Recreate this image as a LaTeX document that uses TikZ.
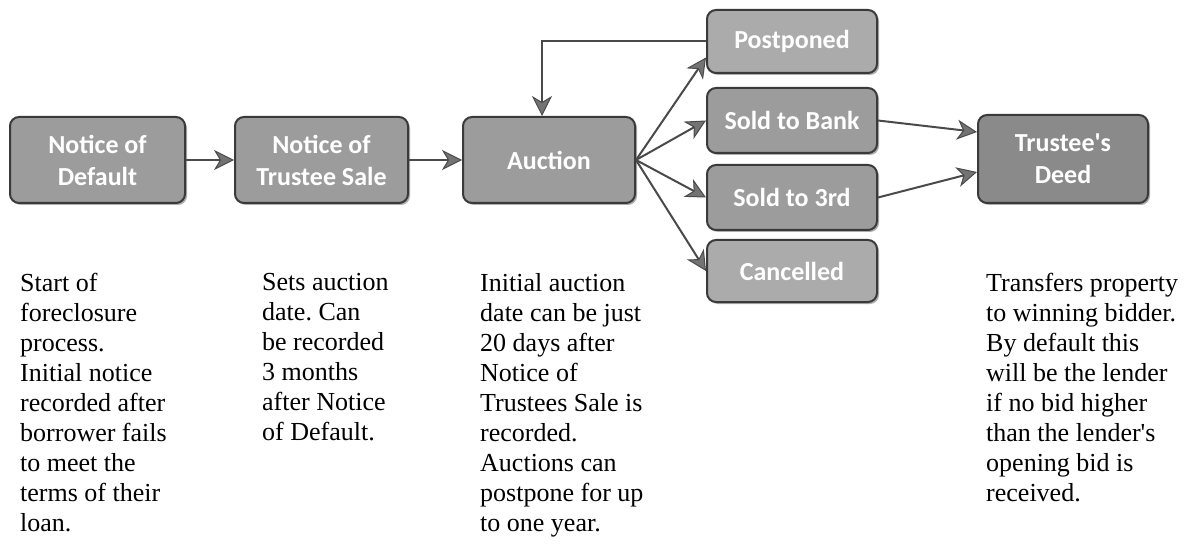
\documentclass[tikz,border=0pt]{standalone}
\usepackage{fontspec}
\setmainfont{Liberation Serif}
\newfontfamily\boxfont{Carlito}
\usetikzlibrary{arrows.meta,shadows,calc}
\definecolor{boxA}{HTML}{9C9C9C}
\definecolor{boxL}{HTML}{ABABAB}
\definecolor{boxD}{HTML}{8A8A8A}
\definecolor{edge}{HTML}{3A3A3A}
\definecolor{arr}{HTML}{4A4A4A}
\tikzset{
  stagebox/.style={draw=edge, line width=2pt, rounded corners=9pt, fill=boxA,
    inner sep=0pt, align=center, text=white,
    font=\boxfont\bfseries\fontsize{26}{32}\selectfont,
    drop shadow={shadow xshift=2pt, shadow yshift=-2pt, fill=black!45, opacity=0.7}},
  flow/.style={draw=arr, line width=2pt,
    -{Stealth[length=20pt,width=20pt,inset=6pt,color=arr,fill=black!55,line width=1pt]}},
  note/.style={anchor=north west, inner sep=0pt, align=left,
    font=\frenchspacing\fontsize{26}{30}\selectfont}
}
\begin{document}
\begin{tikzpicture}[x=1pt,y=-1pt]
\useasboundingbox (0,0) rectangle (1185,545);
% boxes
\node[stagebox, minimum width=175, minimum height=86] (def) at (97.5,160) {Notice of\\Default};
\node[stagebox, minimum width=173, minimum height=86] (tsale) at (321.5,160) {Notice of\\Trustee Sale};
\node[stagebox, minimum width=172, minimum height=86] (auction) at (549,160) {Auction};
\node[stagebox, fill=boxL, minimum width=170, minimum height=63] (post) at (792,41.5) {Postponed};
\node[stagebox, minimum width=170, minimum height=65] (bank) at (792,120.5) {Sold to Bank};
\node[stagebox, minimum width=170, minimum height=65] (third) at (792,197.5) {Sold to 3rd};
\node[stagebox, fill=boxL, minimum width=170, minimum height=62] (canc) at (792,271) {Cancelled};
\node[stagebox, fill=boxD, minimum width=170, minimum height=88] (deed) at (1063,159) {Trustee\textquotesingle s\\Deed};
% connectors
\draw[flow] (def.east) -- (tsale.west);
\draw[flow] (tsale.east) -- (auction.west);
\draw[flow] (auction.east) -- ([yshift=-16pt]post.west);
\draw[flow] (auction.east) -- (bank.west);
\draw[flow] (auction.east) -- (third.west);
\draw[flow] (auction.east) -- (canc.west);
\draw[flow] (post.west) -| ([xshift=-7pt]auction.north);
\draw[flow] (bank.east) -- ([yshift=27pt]deed.west);
\draw[flow] (third.east) -- ([yshift=-13pt]deed.west);
% notes
\node[note] (n1) at (20,273) {Start of\\foreclosure\\process.\\Initial notice\\recorded after\\borrower fails\\to meet the\\terms of their\\loan.};
\node[note] (n2) at (262,273) {Sets auction\\date. Can\\be recorded\\3 months\\after Notice\\of Default.};
\node[note] (n3) at (480,273) {Initial auction\\date can be just\\20 days after\\Notice of\\Trustees Sale is\\recorded.\\Auctions can\\postpone for up\\to one year.};
\node[note] (n4) at (986,273) {Transfers property\\to winning bidder.\\By default this\\will be the lender\\if no bid higher\\than the lender\textquotesingle s\\opening bid is\\received.};
\end{tikzpicture}
\end{document}
